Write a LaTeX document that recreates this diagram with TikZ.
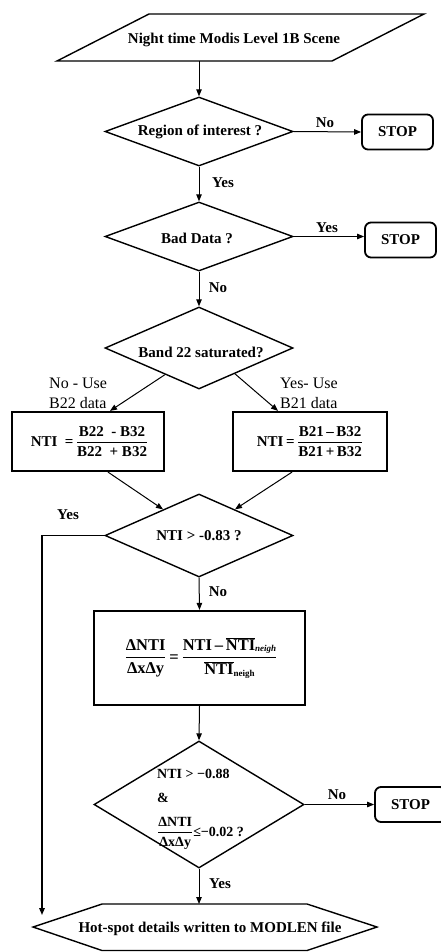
\documentclass[tikz,border=0pt]{standalone}
\usepackage{fontspec}
\setmainfont{Liberation Serif}
\usetikzlibrary{shapes.geometric,arrows.meta,calc}
\tikzset{
  base/.style={font=\fontsize{15}{17}\selectfont\bfseries},
  outl/.style={line width=1.4pt, line join=miter},
  dia/.style={draw, diamond, outl, inner sep=0pt},
  fbox/.style={draw, rectangle, line width=2.2pt, inner sep=0pt, base},
  stopbox/.style={draw, rectangle, rounded corners=6pt, line width=1.8pt, minimum width=71pt, minimum height=35pt, base},
  conn/.style={line width=1pt, -{Triangle[length=7pt,width=5.5pt]}},
  lbl/.style={base, inner sep=0pt},
  rlbl/.style={font=\fontsize{16}{20}\selectfont, anchor=west, align=left, inner sep=0pt},
}
\begin{document}
\begin{tikzpicture}[x=1pt,y=-1pt]
\useasboundingbox (0,0) rectangle (441,952);

% input parallelogram
\draw[outl] (149,14) -- (424,14) -- (332,61) -- (57,61) -- cycle;
\node[base] (scene) at (234,40) {Night time Modis Level 1B Scene};
\coordinate (sceneb) at (199,61);

% decisions
\node[dia, minimum width=188pt, minimum height=69pt] (d1) at (199,131.5) {};
\node[base] (d1t) at (200,132) {Region of interest ?};
\node[dia, minimum width=188pt, minimum height=69pt] (d2) at (199,236.5) {};
\node[base] (d2t) at (197,238) {Bad Data ?};
\node[dia, minimum width=188pt, minimum height=82pt] (d3) at (199,348) {};
\node[base] (d3t) at (201,352) {Band 22 saturated?};
\node[dia, minimum width=188pt, minimum height=83pt] (d4) at (199,535.5) {};
\node[base] (d4t) at (199,536) {NTI > -0.83 ?};
\node[dia, minimum width=210pt, minimum height=127pt] (d5) at (199,804.5) {};
\node[font=\fontsize{14}{24}\selectfont\bfseries, align=left, anchor=west, inner sep=0pt] (d5t) at (157,809)
  {NTI > −0.88\\\&\\[10pt]$\displaystyle{\mbox{ΔNTI}\above 1pt\mbox{ΔxΔy}}$≤−0.02 ?};

% stops
\node[stopbox] (s1) at (397.5,132) {STOP};
\node[stopbox] (s2) at (400.5,240) {STOP};
\node[stopbox] (s3) at (410.5,804.5) {STOP};

% formula boxes
\node[fbox, minimum width=152pt, minimum height=59pt] (bl) at (88,441.5)
  {\hspace*{3pt}NTI\ \ =\,$\displaystyle{\mbox{B22\ \ - B32}\above 1.2pt\mbox{B22\ \ + B32}}$};
\node[fbox, minimum width=154pt, minimum height=59pt] (br) at (310,441.5)
  {NTI\,=\,$\displaystyle{\mbox{B21\,–\,B32}\above 1.2pt\mbox{B21\,+\,B32}}$};
\node[fbox, minimum width=211pt, minimum height=94pt, font=\fontsize{16.5}{18}\selectfont\bfseries] (bm) at (199.5,658)
  {\hspace*{3pt}$\displaystyle{\mbox{ΔNTI}\above 1.2pt\mbox{ΔxΔy}}\mbox{\,=\,}{\mbox{NTI\,–\,}\overline{\mbox{NTI}}\mbox{\raisebox{-1.5pt}{\fontsize{9}{9}\selectfont\itshape neigh}}\above 1.2pt\overline{\mbox{NTI}}\mbox{\raisebox{-2pt}{\fontsize{9}{9}\selectfont neigh}}}$};

% output hexagon
\draw[outl] (33,927) -- (102,904) -- (307,904) -- (377,927) -- (307,950.5) -- (102,950.5) -- cycle;
\node[base] (out) at (210,929) {Hot-spot details written to MODLEN file};
\coordinate (outtop) at (199,904);
\coordinate (leftend) at (42,915);

% connectors
\draw[conn] (sceneb) -- (d1.north);
\draw[conn] (d1.east) -- (s1.west);
\node[lbl] at (325,123) {No};
\draw[conn] (d1.south) -- (d2.north);
\node[lbl] at (223,183) {Yes};
\draw[conn] (d2.east) -- (d2.east -| s2.west);
\node[lbl] at (327,228) {Yes};
\draw[conn] (d2.south) -- (d3.north);
\node[lbl] at (218,288) {No};

\draw[conn] ($(d3.west)!0.64!(d3.south)$) -- ($(bl.north)+(22,0)$);
\draw[conn] ($(d3.south)!0.38!(d3.east)$) -- ($(br.north)+(-32,0)$);
\node[rlbl] (nl) at (49,393) {No - Use\\B22 data};
\node[rlbl] (yl) at (280,393) {Yes- Use\\B21 data};

\draw[conn] ($(bl.south)+(20,0)$) -- ($(d4.west)!0.62!(d4.north)$);
\draw[conn] ($(br.south)+(-18,0)$) -- ($(d4.north)!0.38!(d4.east)$);

\draw[conn, line width=1.5pt] (d4.west) -| (leftend);
\node[lbl] at (68,515) {Yes};
\draw[conn] (d4.south) -- (bm.north);
\node[lbl] at (218,592) {No};
\draw[conn] (bm.south) -- (d5.north);
\draw[conn] (d5.east) -- (d5.east -| s3.west);
\node[lbl] at (337,795) {No};
\draw[conn] (d5.south) -- (outtop);
\node[lbl] at (220,884) {Yes};
\end{tikzpicture}
\end{document}
